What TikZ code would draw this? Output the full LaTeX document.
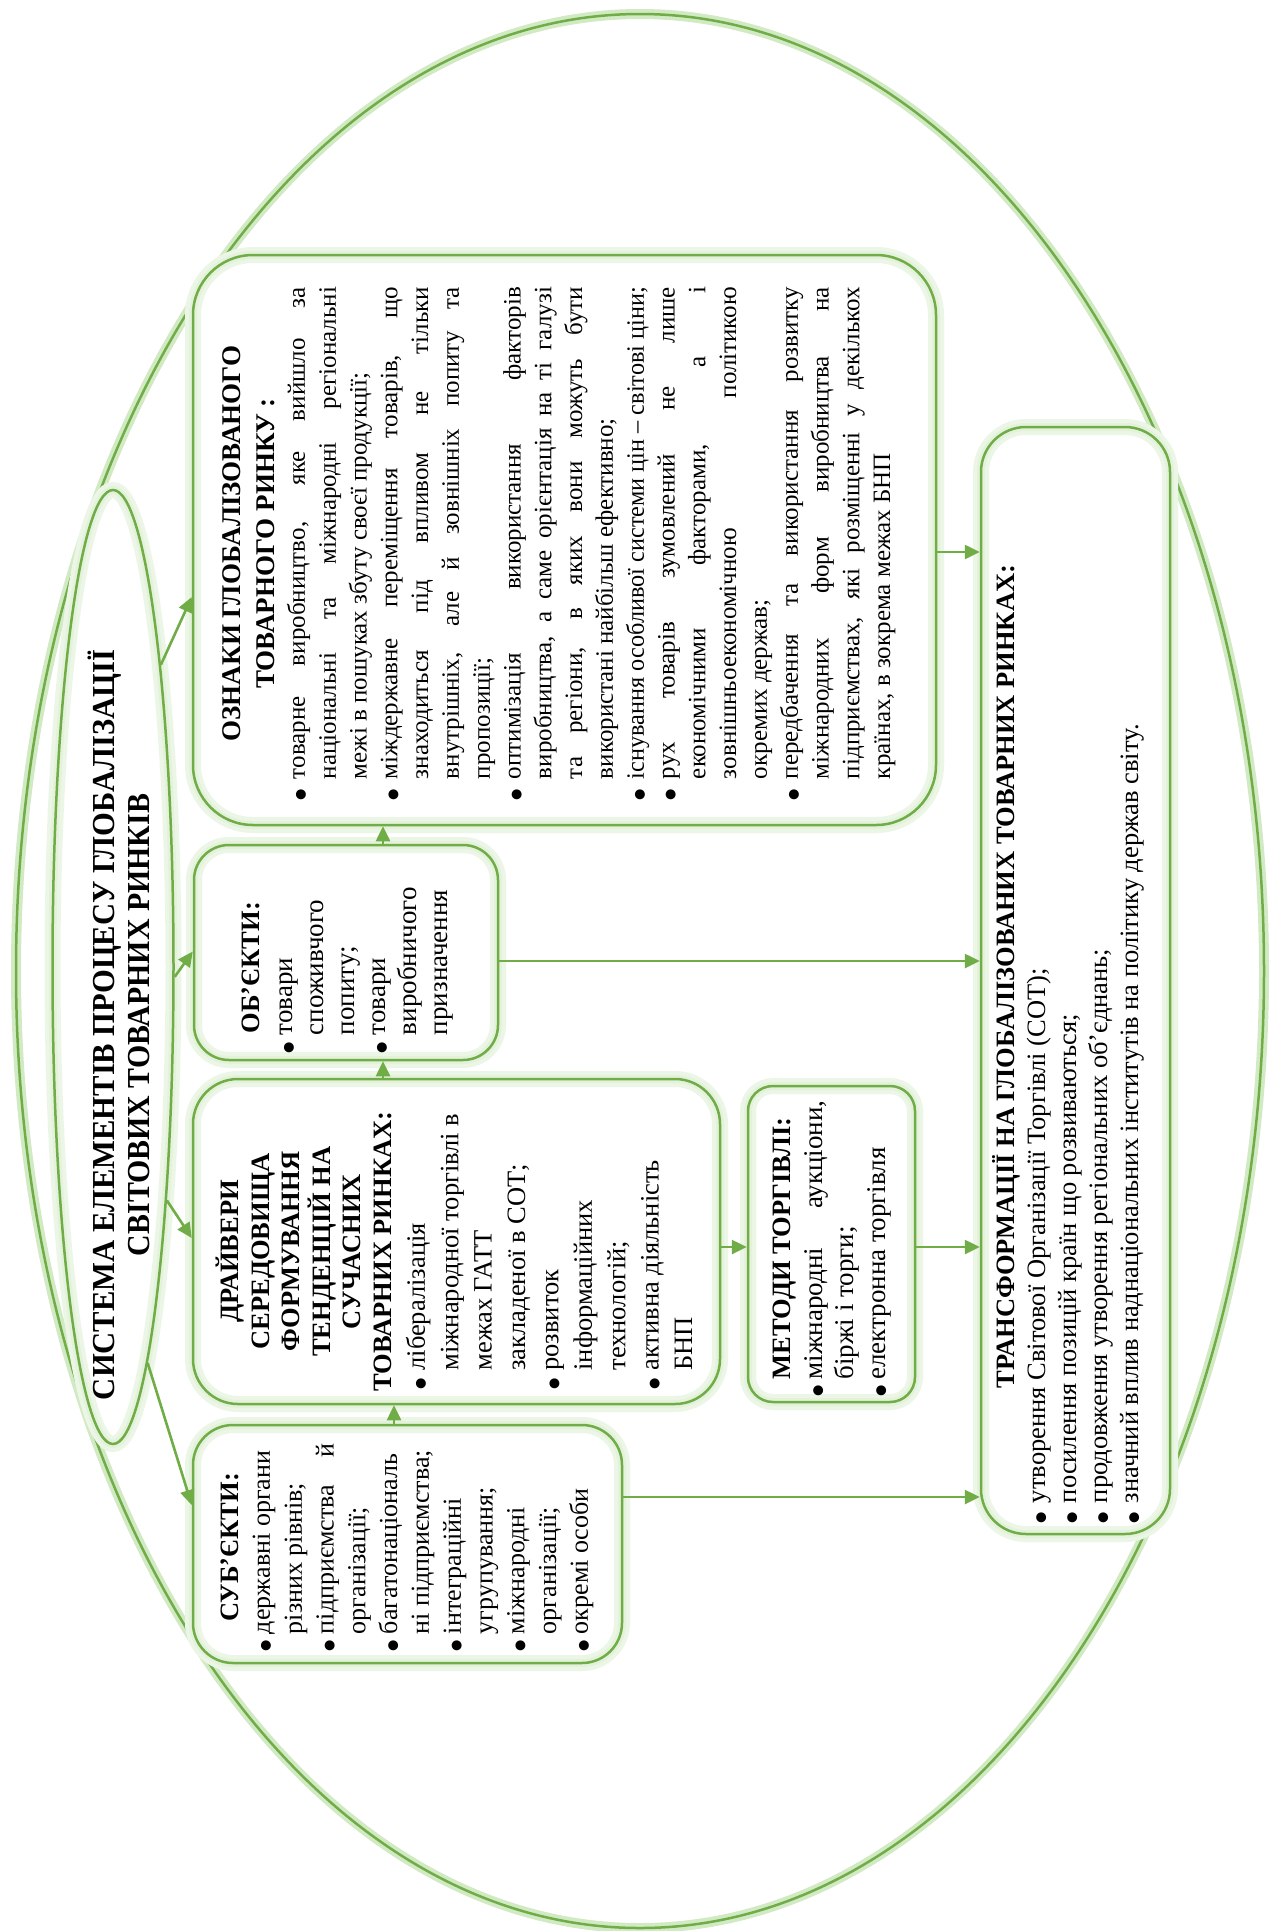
\documentclass[tikz,border=0pt]{standalone}
\usepackage{fontspec}
\setmainfont{Liberation Serif}
\newfontfamily\dejavu{DejaVu Sans}
\usepackage{graphicx}
\usetikzlibrary{arrows.meta,shapes.geometric}
\definecolor{gr}{RGB}{112,173,71}
\definecolor{glow}{RGB}{210,234,196}
\definecolor{inglow}{RGB}{236,246,230}
\newlength\jw
\newlength\bw
\newlength\tmpw
\newcommand\hdfont{\fontsize{26.5}{30}\selectfont}
\newcommand\BUL{\makebox[\bw][l]{\raisebox{0.02em}{\dejavu\fontsize{13}{13}\selectfont ●}}}
\newcommand\J[1]{\settowidth\tmpw{#1}\ifdim\tmpw>\jw\relax\resizebox{\jw}{\height}{#1}\else\makebox[\jw][s]{#1}\fi}
\newcommand\Nt[1]{\makebox[\jw][l]{#1}}
\newcommand\RBJ[1]{\hbox{\BUL\J{#1}}}
\newcommand\RJ[1]{\hbox{\hspace*{\bw}\J{#1}}}
\newcommand\RBN[1]{\hbox{\BUL\Nt{#1}}}
\newcommand\RN[1]{\hbox{\hspace*{\bw}\Nt{#1}}}
\newcommand\HD[1]{\hbox to \dimexpr\bw+\jw\relax{\hss\hdfont\bfseries #1\hss}}
\tikzset{
  box/.style={draw=gr, line width=2.5pt, fill=white, rounded corners=#1,
    preaction={draw=glow, line width=10pt},
    postaction={draw=inglow, line width=16pt},
    postaction={draw=glow!60!white, line width=8pt},
    postaction={draw=gr, line width=2.5pt}},
  txt/.style={rotate=90, inner sep=0pt, outer sep=0pt},
  arr/.style={draw=gr, line width=2.6pt, -{Triangle[length=15pt,width=14pt]}},
}
\begin{document}
\begin{tikzpicture}[x=1pt,y=-1pt]
\useasboundingbox (0,0) rectangle (1270,1931);
\fill[white] (0,0) rectangle (1270,1931);
% outer ellipse
\draw[glow, line width=10pt] (640,971) ellipse [x radius=624pt, y radius=957pt];
\draw[gr, line width=2.5pt] (640,971) ellipse [x radius=624pt, y radius=957pt];
% boxes
\node[box=60pt, minimum width=743pt, minimum height=570pt, inner sep=0pt] (ozn) at (564.5,540) {};
\node[box=35pt, minimum width=304pt, minimum height=215pt, inner sep=0pt] (obj) at (346,952.5) {};
\node[box=45pt, minimum width=527pt, minimum height=325pt, inner sep=0pt] (drv) at (456.5,1241.5) {};
\node[box=25pt, minimum width=167pt, minimum height=316pt, inner sep=0pt] (met) at (831.5,1244) {};
\node[box=40pt, minimum width=429pt, minimum height=238pt, inner sep=0pt] (sub) at (407.5,1544) {};
\node[box=45pt, minimum width=189pt, minimum height=1107pt, inner sep=0pt] (tr) at (1075.5,980.5) {};
% title ellipse
\node[ellipse, draw=gr, line width=2.5pt, fill=white, preaction={draw=glow, line width=10pt},
  postaction={draw=inglow, line width=16pt}, postaction={draw=glow!60!white, line width=8pt},
  postaction={draw=gr, line width=2.5pt},
  minimum width=121pt, minimum height=954pt, inner sep=0pt] (title) at (113,967) {};
% connectors
\coordinate (ve) at (394,0);
\coordinate (vf) at (383,0);
\coordinate (hh) at (0,1247);
\coordinate (hi) at (0,552);
\coordinate (hj) at (0,961);
\coordinate (hl) at (0,1497);
\draw[arr] (title.81) -- ([yshift=-57pt]ozn.west);
\draw[arr] (title.-9) -- ([yshift=1pt]obj.west);
\draw[arr] (title.-77.5) -- ([yshift=3.5pt]drv.west);
\draw[arr] (title.-85) -- ([yshift=39pt]sub.west);
\draw[arr] (sub.north -| ve) -- (drv.south -| ve);
\draw[arr] (drv.north -| vf) -- (obj.south -| vf);
\draw[arr] (obj.north -| vf) -- (ozn.south -| vf);
\draw[arr] (drv.east |- hh) -- (met.west |- hh);
\draw[arr] (ozn.east |- hi) -- (tr.west |- hi);
\draw[arr] (obj.east |- hj) -- (tr.west |- hj);
\draw[arr] (met.east |- hh) -- (tr.west |- hh);
\draw[arr] (sub.east |- hl) -- (tr.west |- hl);
% texts
\node[txt] (titletxt) at (119,1025) {\vbox{\fontsize{32}{35}\selectfont\bfseries
  \hbox to 750pt{\hss\resizebox{750pt}{\height}{СИСТЕМА ЕЛЕМЕНТІВ ПРОЦЕСУ ГЛОБАЛІЗАЦІЇ}\hss}
  \hbox to 750pt{\hss\resizebox{462pt}{\height}{СВІТОВИХ ТОВАРНИХ РИНКІВ}\hss}}};
\node[txt] (ozntxt) at (559,543.5) {\vbox{\fontsize{25}{30.8}\selectfont
  \setlength\jw{492pt}\setlength\bw{21pt}\def\hdfont{\fontsize{27}{30}\selectfont}%
  \HD{ОЗНАКИ ГЛОБАЛІЗОВАНОГО}\kern3pt
  \HD{ТОВАРНОГО РИНКУ :}
  \RBJ{товарне виробництво, яке вийшло за}
  \RJ{національні та міжнародні регіональні}
  \RN{межі в пошуках збуту своєї продукції;}
  \RBJ{міждержавне переміщення товарів, що}
  \RJ{знаходиться під впливом не тільки}
  \RJ{внутрішніх, але й зовнішніх попиту та}
  \RN{пропозиції;}
  \RBJ{оптимізація використання факторів}
  \RJ{виробництва, а саме орієнтація на ті галузі}
  \RJ{та регіони, в яких вони можуть бути}
  \RN{використані найбільш ефективно;}
  \RBJ{існування особливої системи цін – світові ціни;}
  \RBJ{рух товарів зумовлений не лише}
  \RJ{економічними факторами, а і}
  \RJ{зовнішньоекономічною політикою}
  \RN{окремих держав;}
  \RBJ{передбачення та використання розвитку}
  \RJ{міжнародних форм виробництва на}
  \RJ{підприємствах, які розміщенні у декількох}
  \RN{країнах, в зокрема межах БНП}}};
\node[txt] (objtxt) at (348,967.5) {\vbox{\fontsize{27}{31}\selectfont
  \setlength\jw{153pt}\setlength\bw{18pt}%
  \HD{ОБ’ЄКТИ:}\kern2pt
  \RBN{товари}
  \RN{споживчого}
  \RN{попиту;}
  \RBN{товари}
  \RN{виробничого}
  \RN{призначення}}};
\node[txt] (drvtxt) at (454,1251.5) {\vbox{\fontsize{26.5}{30.6}\selectfont
  \setlength\jw{257pt}\setlength\bw{19pt}%
  \HD{ДРАЙВЕРИ}
  \HD{СЕРЕДОВИЩА}
  \HD{ФОРМУВАННЯ}
  \HD{ТЕНДЕНЦІЙ НА}
  \HD{СУЧАСНИХ}
  \HD{ТОВАРНИХ РИНКАХ:}
  \baselineskip=33.4pt
  \RBN{лібералізація}
  \RJ{міжнародної торгівлі в}
  \RN{межах ГАТТ}
  \RN{закладеної в СОТ;}
  \RBN{розвиток}
  \RN{інформаційних}
  \RN{технологій;}
  \RBN{активна діяльність}
  \RN{БНП}}};
\node[txt] (mettxt) at (832,1248.5) {\vbox{\fontsize{27}{31.5}\selectfont
  \setlength\jw{279pt}\setlength\bw{17pt}%
  \HD{МЕТОДИ ТОРГІВЛІ:}
  \RBJ{міжнародні аукціони,}
  \RN{біржі і торги;}
  \RBN{електронна торгівля}}};
\node[txt] (subtxt) at (407,1547.5) {\vbox{\fontsize{26}{31.8}\selectfont
  \setlength\jw{190pt}\setlength\bw{17pt}%
  \HD{СУБ’ЄКТИ:}
  \RBN{державні органи}
  \RN{різних рівнів;}
  \RBJ{підприємства й}
  \RN{організації;}
  \RBN{багатонаціональ}
  \RN{ні підприємства;}
  \RBN{інтеграційні}
  \RN{угрупування;}
  \RBN{міжнародні}
  \RN{організації;}
  \RBN{окремі особи}}};
\node[txt] (trtxt) at (1068,976.5) {\vbox{\fontsize{26.5}{31}\selectfont
  \setlength\jw{1073pt}\setlength\bw{20pt}%
  \HD{ТРАНСФОРМАЦІЇ НА ГЛОБАЛІЗОВАНИХ ТОВАРНИХ РИНКАХ:}
  \RBN{утворення Світової Організації Торгівлі (СОТ);}
  \RBN{посилення позицій країн що розвиваються;}
  \RBN{продовження утворення регіональних об’єднань;}
  \RBN{значний вплив наднаціональних інститутів на політику держав світу.}}};
\end{tikzpicture}
\end{document}
